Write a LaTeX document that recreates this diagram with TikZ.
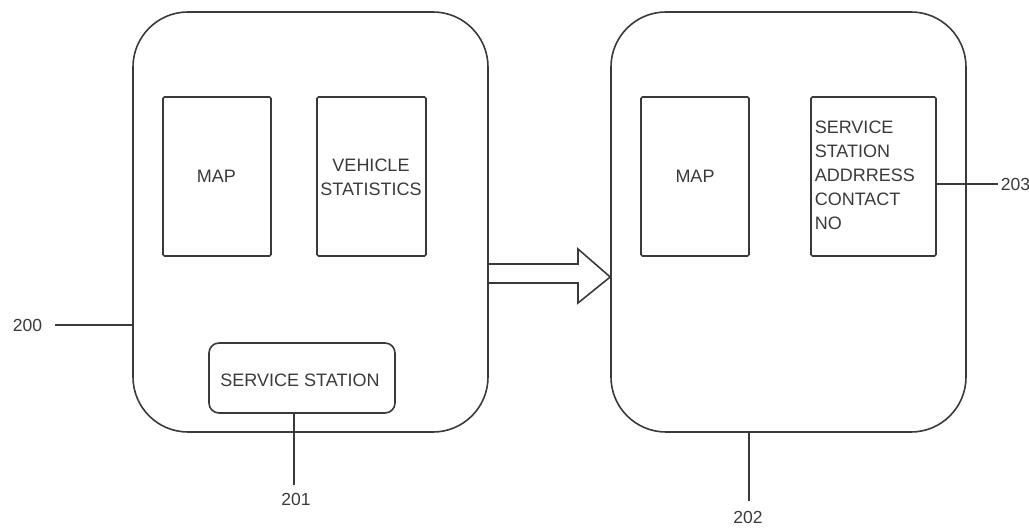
\documentclass[tikz,border=0pt]{standalone}
\usepackage{fontspec}
\setmainfont{Liberation Sans}
\usetikzlibrary{calc}
\definecolor{ink}{HTML}{3A3A3A}
\begin{document}
\begin{tikzpicture}[x=1pt,y=-1pt,
  line width=1.6pt, draw=ink,
  screen/.style={draw=ink, rounded corners=55pt, minimum width=355pt, minimum height=420pt, inner sep=0pt},
  panel/.style={draw=ink, rounded corners=1.5pt, minimum height=159pt, inner sep=0pt},
  lbl/.style={font=\fontsize{18}{24}\selectfont, text=ink, align=center, inner sep=0pt},
  refnum/.style={font=\fontsize{17.5}{19}\selectfont, text=ink, inner sep=0pt}]
\useasboundingbox (0,0) rectangle (1029,529);

% two screens
\node[screen] (L) at (310.5,222) {};
\node[screen] (R) at (788.5,222) {};

% panels of the first screen
\node[panel, minimum width=108pt] (map1) at (217,176.5) {};
\node[lbl] at (216.5,176) {MAP};
\node[panel, minimum width=109pt] (veh) at (371.5,176.5) {};
\node[lbl] at (371,177) {VEHICLE\\STATISTICS};
\node[draw=ink, rounded corners=10pt, minimum width=186pt, minimum height=70pt, inner sep=0pt] (ss) at (302,378) {};
\node[lbl] at (300,380) {SERVICE STATION};

% panels of the second screen
\node[panel, minimum width=108pt] (map2) at (695,176.5) {};
\node[lbl] at (695,176) {MAP};
\node[panel, minimum width=125pt] (addr) at (873.5,176.5) {};
\node[lbl, align=left, anchor=north west] at (814,120) {SERVICE\\STATION\\ADDRRESS\\CONTACT\\NO};

% block arrow between the screens
\draw[line join=miter] (L.east |- 0,264) -- (578,264) -- (578,249) -- (R.west |- 0,277)
  -- (578,303) -- (578,283) -- (L.east |- 0,283);

% reference numerals and leader lines
\coordinate (c200) at (55,325);
\coordinate (c201) at (294,485);
\coordinate (c202) at (749,501);
\coordinate (c203) at (998,184);
\draw (c200) -- (L.west |- c200);
\draw (ss.south -| c201) -- (c201);
\draw (R.south -| c202) -- (c202);
\draw (addr.east |- c203) -- (c203);
\node[refnum] (n200) at (27.5,325) {200};
\node[refnum] (n201) at (296,499) {201};
\node[refnum] (n202) at (748,517) {202};
\node[refnum, anchor=west, overlay] (n203) at (1000,184) {203};
\end{tikzpicture}
\end{document}
